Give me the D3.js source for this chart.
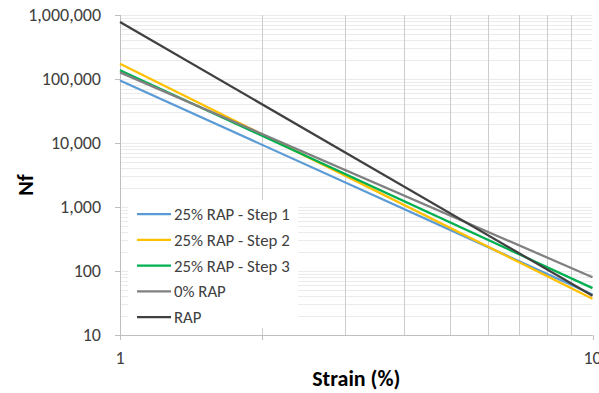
<!DOCTYPE html>
<html lang="en">
<head>
    <meta charset="UTF-8">
    <title>Nf vs Strain</title>
    <script src="https://d3js.org/d3.v7.min.js"></script>
    <style>
        body { margin: 0; background: #fff; }
        .tick-label { font-family: Carlito, Calibri, "Liberation Sans", Arial, sans-serif; font-size: 18px; fill: #404040; }
        .axis-title { font-family: Carlito, Calibri, "Liberation Sans", Arial, sans-serif; font-size: 22px; font-weight: bold; fill: #000; }
        .legend-text { font-family: Carlito, Calibri, "Liberation Sans", Arial, sans-serif; font-size: 16.8px; fill: #404040; }
    </style>
</head>
<body>
<svg id="chart" width="599" height="393"></svg>
<script>
    // strain values (%) at the ends of each fitted line
    const strain = [1, 10];
    const seriesNames = ["25% RAP - Step 1", "25% RAP - Step 2", "25% RAP - Step 3", "0% RAP", "RAP"];
    const step1 = [95000, 43];
    const step2 = [173000, 37];
    const step3 = [137000, 54];
    const rap0 = [127000, 80];
    const rap = [780000, 41];
    const seriesColors = ["#5b9bd5", "#ffc000", "#00b050", "#808080", "#404040"];
    const yTicks = [10, 100, 1000, 10000, 100000, 1000000];
    const xTicks = [1, 10];

    const allSeries = [step1, step2, step3, rap0, rap];

    const svg = d3.select("#chart");
    const margin = { top: 15, right: 6, bottom: 58, left: 120 };
    const width = 599, height = 393;

    const x = d3.scaleLog().domain([1, 10]).range([margin.left, width - margin.right - 0.5]);
    const y = d3.scaleLog().domain([10, 1000000]).range([height - margin.bottom, margin.top]);

    // horizontal gridlines (all decades + minor)
    const hGrid = [];
    for (let d = 10; d < 1000000; d *= 10) {
        for (let m = 1; m <= 9; m++) hGrid.push(d * m);
    }
    hGrid.push(1000000);
    svg.append("g").selectAll("line").data(hGrid).enter().append("line")
        .attr("x1", x(1)).attr("x2", x(10))
        .attr("y1", d => Math.round(y(d)) + 0.5).attr("y2", d => Math.round(y(d)) + 0.5)
        .attr("stroke", "#ebebeb").attr("stroke-width", 1);

    // vertical gridlines
    const vGrid = [2, 3, 4, 5, 6, 7, 8, 9];
    svg.append("g").selectAll("line").data(vGrid).enter().append("line")
        .attr("x1", d => Math.round(x(d)) + 0.5).attr("x2", d => Math.round(x(d)) + 0.5)
        .attr("y1", y(1000000)).attr("y2", y(10))
        .attr("stroke", "#cccccc").attr("stroke-width", 1);

    // axes lines
    svg.append("line")
        .attr("x1", Math.round(x(1)) + 0.5).attr("x2", Math.round(x(1)) + 0.5)
        .attr("y1", y(1000000)).attr("y2", y(10) + 5)
        .attr("stroke", "#bfbfbf");
    svg.append("line")
        .attr("x1", x(1) - 5).attr("x2", x(10))
        .attr("y1", Math.round(y(10)) + 0.5).attr("y2", Math.round(y(10)) + 0.5)
        .attr("stroke", "#bfbfbf");

    // tick marks
    svg.append("g").selectAll("line").data(yTicks).enter().append("line")
        .attr("x1", x(1) - 5).attr("x2", x(1))
        .attr("y1", d => Math.round(y(d)) + 0.5).attr("y2", d => Math.round(y(d)) + 0.5)
        .attr("stroke", "#bfbfbf");
    svg.append("g").selectAll("line").data([1, 2, 10]).enter().append("line")
        .attr("x1", d => Math.round(x(d)) + 0.5).attr("x2", d => Math.round(x(d)) + 0.5)
        .attr("y1", y(10)).attr("y2", y(10) + 5)
        .attr("stroke", "#bfbfbf");

    // tick labels
    const fmt = d3.format(",");
    svg.append("g").selectAll("text").data(yTicks).enter().append("text")
        .attr("class", "tick-label")
        .attr("x", x(1) - 19).attr("y", d => y(d) + 6)
        .attr("text-anchor", "end")
        .text(d => fmt(d));
    svg.append("g").selectAll("text").data(xTicks).enter().append("text")
        .attr("class", "tick-label")
        .attr("x", d => x(d)).attr("y", y(10) + 29)
        .attr("text-anchor", "middle")
        .text(d => d);

    // axis titles
    svg.append("text").attr("class", "axis-title")
        .attr("transform", "translate(33,185) rotate(-90)")
        .attr("text-anchor", "middle")
        .text("Nf");
    svg.append("text").attr("class", "axis-title")
        .attr("x", (x(1) + x(10)) / 2).attr("y", 386)
        .attr("text-anchor", "middle")
        .text("Strain (%)");

    // series lines
    const line = d3.line().x((d, i) => x(strain[i])).y(d => y(d));
    svg.append("g").selectAll("path").data(allSeries).enter().append("path")
        .attr("d", d => line(d))
        .attr("fill", "none")
        .attr("stroke", (d, i) => seriesColors[i])
        .attr("stroke-width", 2.25);

    // legend
    const legend = svg.append("g");
    legend.append("rect")
        .attr("x", 128).attr("y", 200).attr("width", 170).attr("height", 128)
        .attr("fill", "#fff");
    const rows = legend.selectAll("g").data(seriesNames).enter().append("g")
        .attr("transform", (d, i) => `translate(137,${214 + i * 25.8})`);
    rows.append("line")
        .attr("x1", 0).attr("x2", 34).attr("y1", 0).attr("y2", 0)
        .attr("stroke", (d, i) => seriesColors[i]).attr("stroke-width", 2.25);
    rows.append("text").attr("class", "legend-text")
        .attr("x", 37).attr("y", 6)
        .text(d => d);
</script>
</body>
</html>
